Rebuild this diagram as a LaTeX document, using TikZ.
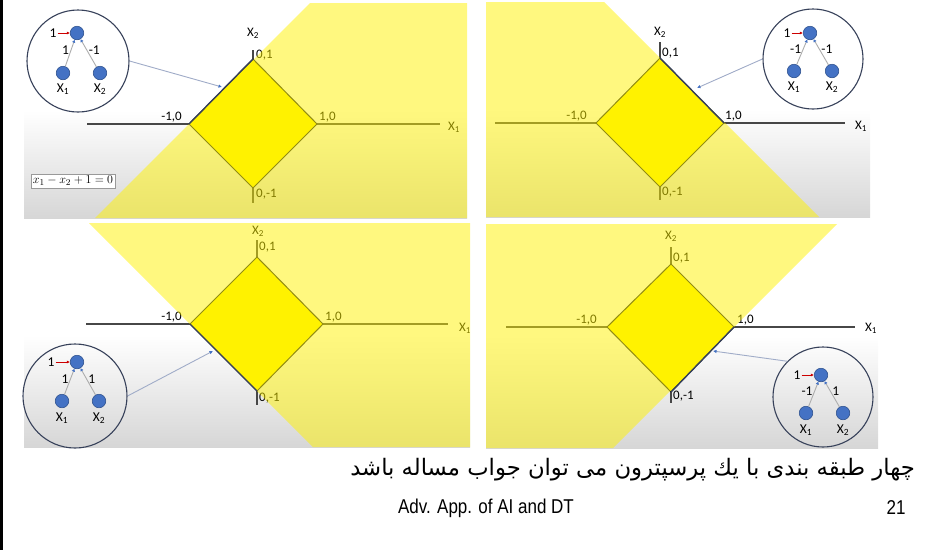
\documentclass[tikz,border=0pt]{standalone}
\usepackage{fontspec}
\setmainfont{Carlito}
\newfontfamily\persianfont[Script=Arabic]{DejaVu Sans}
\newfontfamily\footfont{Liberation Sans}[FakeStretch=0.85]
\TeXXeTstate=1
\usetikzlibrary{arrows.meta, positioning}
\definecolor{unitblue}{RGB}{68,114,196}
\definecolor{unitline}{RGB}{47,82,143}
\definecolor{lensline}{RGB}{55,65,90}
\definecolor{pointer}{RGB}{160,172,200}

\begin{document}
\begin{tikzpicture}[x=1pt, y=-1pt, on grid,
		font=\fontsize{12}{14}\selectfont,
		panelbg/.style={top color=white, bottom color=black!16, middle color=white},
		axisline/.style={draw=black!72, line width=1.3pt},
		diamondbox/.style={draw=black!85, line width=1pt, fill=yellow},
		halfplane/.style={fill=yellow, opacity=0.5},
		border/.style={draw=lensline, line width=1.4pt},
		tick/.style={inner sep=1pt, font=\fontsize{13}{15}\selectfont},
		lens/.style={circle, draw=lensline, line width=1.1pt, minimum size=102pt, inner sep=0pt},
		unit/.style={circle, fill=unitblue, draw=unitline, line width=0.6pt, minimum size=13.5pt, inner sep=0pt},
		inlabel/.style={inner sep=1pt, font=\fontsize{13.5}{15}\selectfont},
		weight/.style={inner sep=1.5pt, font=\fontsize{13.5}{15}\selectfont},
		link/.style={draw=black!32, line width=0.9pt, -{Latex[length=3pt, width=3.5pt, color=unitblue]}},
		biasarrow/.style={draw=red!80!black, line width=0.8pt, -{Latex[length=3pt, width=3pt]}},
		pointerline/.style={draw=pointer, line width=0.9pt, -{Latex[length=3.5pt, width=3.5pt, color=unitblue]}},
		eqbox/.style={draw=black!40, fill=white, inner sep=2pt, font=\fontsize{12.5}{14}\selectfont},
		footer/.style={inner sep=0pt, font=\footfont\fontsize{20}{22}\selectfont}
	]
	\useasboundingbox (0,0) rectangle (951,550);
	\fill[black] (0,0) rectangle (3,550);

	% top left: x1 - x2 + 1 = 0
	\fill[white] (24,3) rectangle (467,218);
	\shade[panelbg] (24,3) rectangle (467,218);
	\coordinate (aT) at (253,59);
	\coordinate (aL) at (189,124);
	\coordinate (aR) at (317,124);
	\coordinate (aB) at (253,188);
	\draw[axisline] (87,124) -- (440,124);
	\draw[axisline] (253,50) -- (253,203);
	\draw[diamondbox] (aT) -- (aR) -- (aB) -- (aL) -- cycle;
	\node[tick] (ax2) at (253,33) {X\textsubscript{2}};
	\node[tick, anchor=west] (ax1) at (447,127) {X\textsubscript{1}};
	\node[tick, anchor=west] (a01) at (255,55) {0,1};
	\node[tick, anchor=east] (am10) at (183,117) {-1,0};
	\node[tick, anchor=west] (a10) at (318,117) {1,0};
	\node[tick, anchor=west] (a0m1) at (255,194) {0,-1};
	\fill[halfplane] (310,3) -- (467,3) -- (467,218) -- (95,218) -- cycle;
	\draw[border] (aL) -- (aT);
	\node[eqbox] (aeq) at (73,181) {$x_1 - x_2 + 1 = 0$};
	\node[lens] (alens) at (78,61) {};
	\node[unit] (aout) at (77,33) {};
	\node[unit, below left=40pt and 14pt of aout] (ain1) {};
	\node[unit, below right=40pt and 23pt of aout] (ain2) {};
	\node[inlabel, below=16pt of ain1] (ain1t) {X\textsubscript{1}};
	\node[inlabel, below=16pt of ain2] (ain2t) {X\textsubscript{2}};
	\node[inlabel, left=24pt of aout] (abias) {1};
	\draw[biasarrow] (abias) -- (aout);
	\draw[link] (ain1) -- (aout) node[weight, pos=.6, left] (aw1) {1};
	\draw[link] (ain2) -- (aout) node[weight, pos=.6, right] (aw2) {-1};
	\coordinate (ahit) at (222,87);
	\draw[pointerline] (alens.east) -- (ahit);

	% top right: x1 + x2 - 1 = 0
	\fill[white] (486,2) rectangle (870,217);
	\shade[panelbg] (486,2) rectangle (870,217);
	\coordinate (bT) at (660,58);
	\coordinate (bL) at (596,123);
	\coordinate (bR) at (724,123);
	\coordinate (bB) at (660,187);
	\draw[axisline] (495,123) -- (845,123);
	\draw[axisline] (660,42) -- (660,200);
	\draw[diamondbox] (bT) -- (bR) -- (bB) -- (bL) -- cycle;
	\node[tick] (bx2) at (660,32) {X\textsubscript{2}};
	\node[tick, anchor=west] (bx1) at (854,126) {X\textsubscript{1}};
	\node[tick, anchor=west] (b01) at (661,53) {0,1};
	\node[tick, anchor=east] (bm10) at (588,116) {-1,0};
	\node[tick, anchor=west] (b10) at (724,116) {1,0};
	\node[tick, anchor=west] (b0m1) at (661,192) {0,-1};
	\fill[halfplane] (486,2) -- (604,2) -- (819,217) -- (486,217) -- cycle;
	\draw[border] (bT) -- (bR);
	\node[lens, minimum size=100pt] (blens) at (813,59) {};
	\node[unit] (bout) at (810,33) {};
	\node[unit, below left=38pt and 16pt of bout] (bin1) {};
	\node[unit, below right=38pt and 22pt of bout] (bin2) {};
	\node[inlabel, below=16pt of bin1] (bin1t) {X\textsubscript{1}};
	\node[inlabel, below=16pt of bin2] (bin2t) {X\textsubscript{2}};
	\node[inlabel, left=23pt of bout] (bbias) {1};
	\draw[biasarrow] (bbias) -- (bout);
	\draw[link] (bin1) -- (bout) node[weight, pos=.6, left] (bw1) {-1};
	\draw[link] (bin2) -- (bout) node[weight, pos=.6, right] (bw2) {-1};
	\coordinate (bhit) at (697,88);
	\draw[pointerline] (blens.west) -- (bhit);

	% bottom left: x1 + x2 + 1 = 0
	\fill[white] (24,223) rectangle (470,447);
	\shade[panelbg] (24,223) rectangle (470,447);
	\coordinate (cT) at (257,257);
	\coordinate (cL) at (190,324);
	\coordinate (cR) at (323,324);
	\coordinate (cB) at (257,391);
	\draw[axisline] (86,324) -- (448,324);
	\draw[axisline] (257,240) -- (257,405);
	\draw[diamondbox] (cT) -- (cR) -- (cB) -- (cL) -- cycle;
	\node[tick] (cx2) at (258,231) {X\textsubscript{2}};
	\node[tick, anchor=west] (cx1) at (458,328) {X\textsubscript{1}};
	\node[tick, anchor=west] (c01) at (258,247) {0,1};
	\node[tick, anchor=east] (cm10) at (183,317) {-1,0};
	\node[tick, anchor=west] (c10) at (324,317) {1,0};
	\node[tick, anchor=west] (c0m1) at (258,398) {0,-1};
	\fill[halfplane] (89,223) -- (470,223) -- (470,447) -- (313,447) -- cycle;
	\draw[border] (cL) -- (cB);
	\node[lens, minimum size=104pt] (clens) at (75,396) {};
	\node[unit] (cout) at (77,362) {};
	\node[unit, below left=39pt and 15pt of cout] (cin1) {};
	\node[unit, below right=39pt and 22pt of cout] (cin2) {};
	\node[inlabel, below=17pt of cin1] (cin1t) {X\textsubscript{1}};
	\node[inlabel, below=17pt of cin2] (cin2t) {X\textsubscript{2}};
	\node[inlabel, left=26pt of cout] (cbias) {1};
	\draw[biasarrow] (cbias) -- (cout);
	\draw[link] (cin1) -- (cout) node[weight, pos=.6, left] (cw1) {1};
	\draw[link] (cin2) -- (cout) node[weight, pos=.6, right] (cw2) {1};
	\coordinate (chit) at (213,351);
	\draw[pointerline] (clens.east) -- (chit);

	% bottom right: x1 - x2 - 1 = 0
	\fill[white] (486,224) rectangle (878,448);
	\shade[panelbg] (486,224) rectangle (878,448);
	\coordinate (dT) at (671,264);
	\coordinate (dL) at (607,327);
	\coordinate (dR) at (734,327);
	\coordinate (dB) at (671,392);
	\draw[axisline] (506,327) -- (855,327);
	\draw[axisline] (671,247) -- (671,403);
	\draw[diamondbox] (dT) -- (dR) -- (dB) -- (dL) -- cycle;
	\node[tick] (dx2) at (671,236) {X\textsubscript{2}};
	\node[tick, anchor=west] (dx1) at (864,328) {X\textsubscript{1}};
	\node[tick, anchor=west] (d01) at (672,258) {0,1};
	\node[tick, anchor=east] (dm10) at (598,320) {-1,0};
	\node[tick, anchor=west] (d10) at (736,320) {1,0};
	\node[tick, anchor=west] (d0m1) at (672,396) {0,-1};
	\fill[halfplane] (486,224) -- (837,224) -- (613,448) -- (486,448) -- cycle;
	\draw[border] (dR) -- (dB);
	\node[lens, minimum size=100pt] (dlens) at (823,397) {};
	\node[unit] (dout) at (821,375) {};
	\node[unit, below left=38pt and 15pt of dout] (din1) {};
	\node[unit, below right=38pt and 22pt of dout] (din2) {};
	\node[inlabel, below=17pt of din1] (din1t) {X\textsubscript{1}};
	\node[inlabel, below=17pt of din2] (din2t) {X\textsubscript{2}};
	\node[inlabel, left=24pt of dout] (dbias) {1};
	\draw[biasarrow] (dbias) -- (dout);
	\draw[link] (din1) -- (dout) node[weight, pos=.6, left] (dw1) {-1};
	\draw[link] (din2) -- (dout) node[weight, pos=.6, right] (dw2) {1};
	\coordinate (dhit) at (713,351);
	\draw[pointerline] (dlens.north west) -- (dhit);

	% caption and footer
	\node[anchor=east, inner sep=0pt, font=\persianfont\fontsize{22.7}{26}\selectfont] (caption) at (915,470)
		{\beginR چهار طبقه بندی با یك پرسپترون می توان جواب مساله باشد\endR};
	\node[footer] (foot) at (486,508) {Adv. App. of AI and DT};
	\node[footer] (page) at (896,508) {21};
\end{tikzpicture}
\end{document}
